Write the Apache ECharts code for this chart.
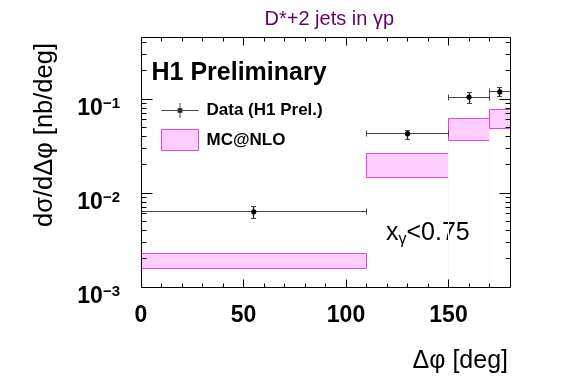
<!DOCTYPE html>
<html><head><meta charset="utf-8">
<script src="https://cdn.jsdelivr.net/npm/echarts@6/dist/echarts.min.js"></script>
<style>html,body{margin:0;padding:0;background:#fff}#c{width:567px;height:384px}</style>
</head><body><div id="c"></div>
<script>
// ---- data ----
const binLo = [0, 110, 150, 170];
const binHi = [110, 150, 170, 180];
const dataX = [55, 130, 160, 175];
const dataY = [0.0063, 0.0428, 0.105, 0.119];
const dataErrLo = [0.0054, 0.0375, 0.0906, 0.1066];
const dataErrHi = [0.0071, 0.0464, 0.118, 0.134];
const mcLo = [0.00159, 0.01466, 0.0363, 0.0491];
const mcHi = [0.0023, 0.0264, 0.0628, 0.0783];
const xTickLabels = [0, 50, 100, 150];
const xMinorTicks = [10, 20, 30, 40, 60, 70, 80, 90, 110, 120, 130, 140, 160, 170];
const yMajorTicks = [0.001, 0.01, 0.1];
const yMinorTicks = [0.002,0.003,0.004,0.005,0.006,0.007,0.008,0.009,
                     0.02,0.03,0.04,0.05,0.06,0.07,0.08,0.09,
                     0.2,0.3,0.4];
const xMin = 0, xMax = 180, yMin = 0.001, yMax = 0.457;

const FONT = '"Liberation Sans", Arial, Helvetica, sans-serif';
const crisp = v => Math.round(v - 0.5) + 0.5;

const mcData = binLo.map((lo, i) => [lo, binHi[i], mcLo[i], mcHi[i]]);
const ptData = dataX.map((x, i) => [x, dataY[i], dataErrLo[i], dataErrHi[i], binLo[i], binHi[i]]);

function renderMC(params, api) {
  const lo = api.value(0), hi = api.value(1), yl = api.value(2), yh = api.value(3);
  const p1 = api.coord([lo, yh]), p2 = api.coord([hi, yl]);
  const bottom = api.coord([lo, yMin])[1];
  const x1 = crisp(p1[0]), x2 = crisp(p2[0]), y1 = crisp(p1[1]), y2 = crisp(p2[1]);
  const children = [];
  if (params.dataIndex > 1) {
    children.push({type:'line', shape:{x1:x1, y1:y2, x2:x1, y2:bottom}, style:{stroke:'#fdf2fd', lineWidth:1}});
  }
  children.push({type:'rect', shape:{x:x1, y:y1, width:x2-x1, height:y2-y1},
    style:{fill:'#ffccff', stroke:'#dd44dd', lineWidth:1}});
  return {type:'group', children};
}

function renderData(params, api) {
  const x = api.value(0), y = api.value(1), el = api.value(2), eh = api.value(3), xl = api.value(4), xh = api.value(5);
  const c = api.coord([x, y]);
  const pl = api.coord([xl, y]), ph = api.coord([xh, y]);
  const pel = api.coord([x, el]), peh = api.coord([x, eh]);
  const cy = crisp(c[1]), cx = crisp(c[0]);
  const st = {stroke:'#444', lineWidth:1};
  const children = [
    {type:'line', shape:{x1:pl[0], y1:cy, x2:ph[0], y2:cy}, style:st},
    {type:'line', shape:{x1:crisp(pl[0]), y1:cy-3, x2:crisp(pl[0]), y2:cy+3}, style:st},
    {type:'line', shape:{x1:crisp(ph[0]), y1:cy-3, x2:crisp(ph[0]), y2:cy+3}, style:st},
    {type:'line', shape:{x1:cx, y1:peh[1], x2:cx, y2:pel[1]}, style:{stroke:'#222', lineWidth:1.3}},
    {type:'line', shape:{x1:cx-2.5, y1:crisp(peh[1]), x2:cx+2.5, y2:crisp(peh[1])}, style:st},
    {type:'line', shape:{x1:cx-2.5, y1:crisp(pel[1]), x2:cx+2.5, y2:crisp(pel[1])}, style:st},
    {type:'circle', shape:{cx:c[0], cy:c[1], r:2.6}, style:{fill:'#000'}}
  ];
  return {type:'group', children};
}

function renderFrame(params, api) {
  const L = crisp(api.coord([xMin, 0.01])[0]), R = crisp(api.coord([xMax, 0.01])[0]);
  const B = crisp(api.coord([0, yMin])[1]), T = crisp(api.coord([0, yMax])[1]);
  const children = [];
  const st = {stroke:'#000', lineWidth:1};
  const line = (x1, y1, x2, y2) => children.push({type:'line', shape:{x1, y1, x2, y2}, style:st});
  xTickLabels.forEach(v => { const x = crisp(api.coord([v, 0.01])[0]); line(x, B, x, B-8); line(x, T, x, T+8); });
  xMinorTicks.forEach(v => { const x = crisp(api.coord([v, 0.01])[0]); line(x, B, x, B-4); line(x, T, x, T+4); });
  yMajorTicks.forEach(v => { const y = crisp(api.coord([0, v])[1]); line(L, y, L+11, y); line(R, y, R-11, y); });
  yMinorTicks.forEach(v => { const y = crisp(api.coord([0, v])[1]); line(L, y, L+5, y); line(R, y, R-5, y); });
  children.push({type:'rect', shape:{x:L, y:T, width:R-L, height:B-T}, style:{fill:'none', stroke:'#000', lineWidth:1}});
  return {type:'group', children};
}

const chart = echarts.init(document.getElementById('c'), null, {renderer:'canvas'});
chart.setOption({
  animation: false,
  backgroundColor: '#fff',
  textStyle: {fontFamily: FONT},
  title: [
    {text:'D*+2 jets in γp', left:264.5, top:9, padding:0,
     textStyle:{color:'#660066', fontSize:20, fontWeight:'normal', fontFamily:FONT}},
    {text:'H1 Preliminary', left:151.5, top:61, padding:0,
     textStyle:{color:'#000', fontSize:25, fontWeight:'bold', fontFamily:FONT}}
  ],
  grid: {left:141, top:37, width:369, height:250, show:false, containLabel:false},
  legend: {
    orient:'vertical', left:161, top:99.5, padding:0, itemWidth:37, itemHeight:21, itemGap:7.5,
    selectedMode:false,
    textStyle:{fontSize:17, fontWeight:'bold', color:'#000', fontFamily:FONT, padding:[0,0,0,3]},
    data:[
      {name:'Data (H1 Prel.)', icon:'path://M0 0M0 10.5H37M18.5 3V18M16.5 8.5H20.5V12.5H16.5Z M37 21',
       itemStyle:{color:'#000', borderColor:'#444', borderWidth:1}},
      {name:'MC@NLO', icon:'rect', itemStyle:{color:'#ffccff', borderColor:'#dd44dd', borderWidth:1}}
    ]
  },
  xAxis: {
    type:'value', min:xMin, max:xMax, interval:50,
    axisLine:{show:false}, axisTick:{show:false}, splitLine:{show:false},
    axisLabel:{fontSize:23, fontWeight:'bold', color:'#000', margin:17, fontFamily:FONT, showMaxLabel:false,
      formatter: v => xTickLabels.indexOf(v) >= 0 ? String(v) : ''},
    name:'Δφ [deg]', nameLocation:'end', nameGap:-2,
    nameTextStyle:{fontSize:25, color:'#000', align:'right', verticalAlign:'top', padding:[62,0,0,0], fontFamily:FONT}
  },
  yAxis: {
    type:'log', logBase:10, min:yMin, max:yMax,
    axisLine:{show:false}, axisTick:{show:false}, splitLine:{show:false}, minorTick:{show:false},
    axisLabel:{
      margin:21, color:'#000', padding:[20,0,0,0],
      formatter: v => {
        const e = Math.log10(v);
        if (Math.abs(e - Math.round(e)) < 1e-6 && yMajorTicks.some(t => Math.abs(t - v) / t < 1e-6)) {
          return '{b|10}{s|\u2212' + Math.abs(Math.round(e)) + '}';
        }
        return '';
      },
      rich:{
        b:{fontSize:23, fontWeight:'bold', color:'#000', fontFamily:FONT, lineHeight:26},
        s:{fontSize:15, fontWeight:'bold', color:'#000', fontFamily:FONT, verticalAlign:'top', lineHeight:15}
      }
    },
    name:'dσ/dΔφ [nb/deg]', nameLocation:'middle', nameRotate:90, nameGap:83,
    nameTextStyle:{fontSize:25.5, color:'#000', fontFamily:FONT, padding:[0,0,0,54]}
  },
  graphic: [
    {type:'text', left:386, top:221, silent:true,
     style:{text:'{x|x}{g|γ}{x|<0.75}', fill:'#000', font:'25px ' + FONT,
       rich:{x:{fontSize:25, fontFamily:FONT, lineHeight:28}, g:{fontSize:16, fontFamily:FONT, verticalAlign:'bottom', lineHeight:16}}}}
  ],
  series: [
    {name:'MC@NLO', type:'custom', renderItem:renderMC, data:mcData, encode:{x:[0,1], y:[2,3]}, silent:true, z:2},
    {name:'Data (H1 Prel.)', type:'custom', renderItem:renderData, data:ptData, encode:{x:[0,4,5], y:[1,2,3]}, silent:true, z:3},
    {name:'frame', type:'custom', renderItem:renderFrame, data:[[90, 0.01]], encode:{x:0, y:1}, silent:true, clip:false, z:4}
  ]
});
</script>
</body></html>
